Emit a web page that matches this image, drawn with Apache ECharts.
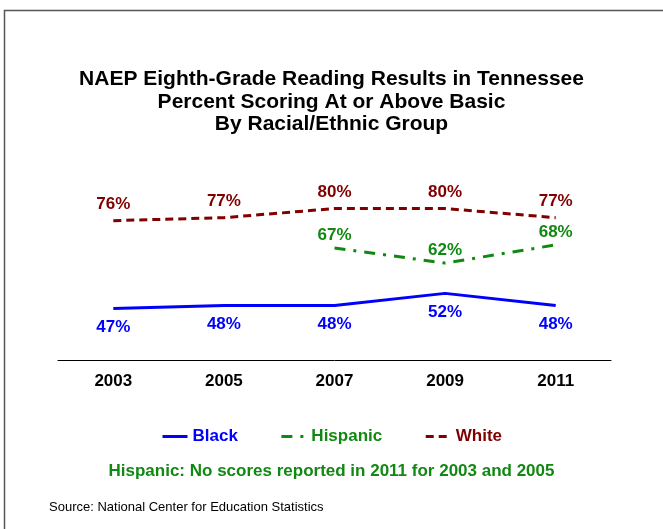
<!DOCTYPE html>
<html>
<head>
<meta charset="utf-8">
<script src="https://cdn.jsdelivr.net/npm/echarts@6/dist/echarts.min.js"></script>
<style>html,body{margin:0;padding:0;background:#fff}#c{width:663px;height:529px}</style>
</head>
<body>
<div id="c"></div>
<script>
var years = ['2003', '2005', '2007', '2009', '2011'];
var black = [47, 48, 48, 52, 48];
var hispanic = [null, null, 67, 62, 68];
var white = [76, 77, 80, 80, 77];
var titleLines = ['NAEP Eighth-Grade Reading Results in Tennessee', 'Percent Scoring At or Above Basic', 'By Racial/Ethnic Group'];
var footnote = 'Hispanic: No scores reported in 2011 for 2003 and 2005';
var source = 'Source: National Center for Education Statistics';

var FONT = 'Liberation Sans, Arial, sans-serif';
var cBlack = '#0000FF', cHisp = '#118811', cWhite = '#800000';
var chart = echarts.init(document.getElementById('c'), null, {renderer: 'canvas'});
function lineSeries(name, data, color, type) {
  return {name: name, type: 'line', data: data, symbol: 'none', connectNulls: false,
    lineStyle: {color: color, width: 3, type: type}, itemStyle: {color: color}};
}
function labelSeries(name, data, color, pos, dist) {
  return {name: name + ' labels', type: 'scatter', data: data, symbol: 'circle', symbolSize: 1, silent: true,
    itemStyle: {color: 'rgba(0,0,0,0)', opacity: 1},
    label: {show: true, position: pos, distance: dist, color: color, opacity: 1, fontFamily: FONT, fontWeight: 'bold', fontSize: 17,
      formatter: function (p) { return p.value + '%'; }}};
}
chart.setOption({
  animation: false,
  title: [{
    text: titleLines.join('\n'), left: 'center', top: 63,
    textStyle: {fontFamily: FONT, fontWeight: 'bold', fontSize: 21, lineHeight: 22.5, color: '#000'}
  }, {
    text: footnote, left: 'center', top: 458,
    textStyle: {fontFamily: FONT, fontWeight: 'bold', fontSize: 17, color: cHisp}
  }, {
    text: source, left: 44, top: 496,
    textStyle: {fontFamily: FONT, fontWeight: 'normal', fontSize: 13, color: '#000'}
  }],
  legend: {
    left: 'center', top: 423, itemWidth: 25, itemHeight: 14, itemGap: 42,
    itemStyle: {opacity: 0}, lineStyle: {width: 3},
    textStyle: {fontFamily: FONT, fontWeight: 'bold', fontSize: 17},
    data: [
      {name: 'Black', textStyle: {color: cBlack}},
      {name: 'Hispanic', textStyle: {color: cHisp}},
      {name: 'White', textStyle: {color: cWhite}}
    ]
  },
  graphic: [{
    type: 'polyline', silent: true,
    shape: {points: [[4.5, 529], [4.5, 10.5], [663, 10.5]]},
    style: {stroke: '#555', lineWidth: 1.5, fill: null}
  }],
  grid: {left: 58, right: 52, top: 148, bottom: 169},
  xAxis: {
    type: 'category', data: years, boundaryGap: true,
    axisLine: {lineStyle: {color: '#000', width: 1}}, axisTick: {show: false},
    axisLabel: {color: '#000', fontFamily: FONT, fontWeight: 'bold', fontSize: 17, margin: 13}
  },
  yAxis: {type: 'value', min: 30, max: 100, show: false, splitLine: {show: false}},
  series: [
    lineSeries('Black', black, cBlack, 'solid'),
    lineSeries('Hispanic', hispanic, cHisp, [11, 8, 3, 8]),
    lineSeries('White', white, cWhite, [8, 5]),
    labelSeries('Black', black, cBlack, 'bottom', 10),
    labelSeries('Hispanic', hispanic, cHisp, 'top', 4),
    labelSeries('White', white, cWhite, 'top', 7)
  ]
});
</script>
</body>
</html>
